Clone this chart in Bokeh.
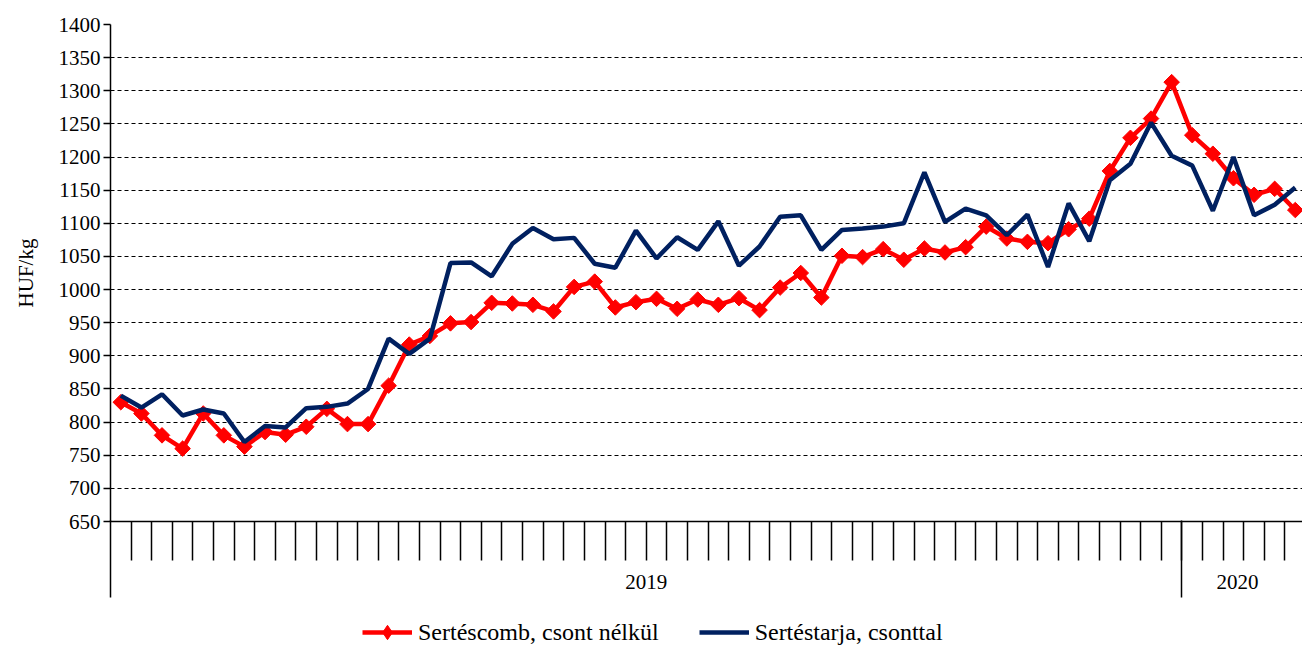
import math
from bokeh.plotting import figure
from bokeh.layouts import column
from bokeh.models import Range1d, FixedTicker, LinearAxis, Legend, LegendItem
from bokeh.embed import file_html
from bokeh.resources import INLINE

# ---- data ----
years = ["2019", "2020"]
weeks_2019 = [str(i) for i in range(1, 53)]
weeks_2020 = [str(i) for i in range(1, 7)]
series_names = ["Sertéscomb, csont nélkül", "Sertéstarja, csonttal"]

sertescomb = [830, 813, 780, 760, 813, 780, 763, 785, 781, 793,
              820, 797, 797, 855, 917, 930, 949, 951, 980, 979,
              977, 967, 1004, 1012, 973, 981, 986, 971, 985, 977,
              987, 969, 1003, 1025, 988, 1051, 1049, 1061, 1045, 1062,
              1056, 1064, 1095, 1077, 1072, 1070, 1091, 1107, 1179, 1229,
              1258, 1313, 1233, 1205, 1168, 1143, 1152, 1120]

sertestarja = [840, 822, 842, 810, 819, 813, 770, 794, 792, 821,
               823, 828, 850, 926, 903, 926, 1040, 1041, 1020, 1069,
               1093, 1076, 1078, 1039, 1033, 1089, 1047, 1079, 1060, 1103,
               1036, 1065, 1110, 1112, 1060, 1090, 1092, 1095, 1100, 1177,
               1102, 1122, 1112, 1082, 1113, 1034, 1130, 1073, 1165, 1190,
               1252, 1202, 1187, 1119, 1200, 1112, 1128, 1154]

y_ticks = list(range(650, 1401, 50))

# ---- derived positions (category index based) ----
labels = weeks_2019 + weeks_2020
n = len(labels)
xs = [i + 0.5 for i in range(n)]
n19 = len(weeks_2019)
year_centers = [n19 / 2, n19 + len(weeks_2020) / 2 - 0.3]
year_bounds = [0, n19]

FONT = "Liberation Serif"
FS = "21px"
RED = "#FF0000"
NAVY = "#002060"

p = figure(frame_width=1192, frame_height=497, output_backend="svg", toolbar_location=None,
           x_range=Range1d(0, 57.85), y_range=Range1d(650, 1400),
           x_axis_location=None, y_axis_location="left",
           min_border_top=24, min_border_left=110, min_border_right=0, min_border_bottom=88,
           background_fill_color="white", border_fill_color="white")
p.outline_line_color = None

# y axis
p.yaxis.ticker = FixedTicker(ticks=y_ticks)
p.yaxis.axis_line_color = "black"
p.yaxis.axis_line_width = 1.5
p.yaxis.major_tick_out = 7
p.yaxis.major_tick_in = 0
p.yaxis.major_tick_line_width = 1.5
p.yaxis.minor_tick_line_color = None
p.yaxis.major_label_text_font = FONT
p.yaxis.major_label_text_font_size = FS
p.yaxis.major_label_text_color = "black"
p.yaxis.major_label_standoff = 3
p.yaxis.axis_label = "HUF/kg"
p.yaxis.axis_label_text_font = FONT
p.yaxis.axis_label_text_font_size = FS
p.yaxis.axis_label_text_font_style = "normal"
p.yaxis.axis_label_text_color = "black"
p.yaxis.axis_label_standoff = 18

p.ygrid.ticker = FixedTicker(ticks=y_ticks[1:])
p.ygrid.grid_line_color = "black"
p.ygrid.grid_line_dash = "4 3"
p.ygrid.grid_line_width = 1
p.xgrid.visible = False

# x axis: category ticks + year labels
ax1 = LinearAxis(ticker=FixedTicker(ticks=year_centers, minor_ticks=list(range(1, n))),
                 major_label_overrides={year_centers[0]: years[0], year_centers[1]: years[1]},
                 major_tick_out=0, major_tick_in=0,
                 minor_tick_out=39, minor_tick_in=0,
                 minor_tick_line_color="black", minor_tick_line_width=1.5,
                 axis_line_color="black", axis_line_width=1.5,
                 major_label_standoff=14,
                 major_label_text_font=FONT, major_label_text_font_size=FS,
                 major_label_text_color="black")
p.add_layout(ax1, "below")

# x axis: year separators
ax2 = LinearAxis(ticker=FixedTicker(ticks=year_bounds),
                 major_label_overrides={year_bounds[0]: "", year_bounds[1]: ""},
                 axis_line_color=None,
                 major_tick_in=71, major_tick_out=6,
                 major_tick_line_color="black", major_tick_line_width=1.5,
                 major_label_standoff=0, major_label_text_font_size="1px")
p.add_layout(ax2, "below")

# series
p.line(xs, sertescomb, line_color=RED, line_width=4.5)
p.scatter(xs, sertescomb, marker="square", angle=math.pi / 4, size=11,
          fill_color=RED, line_color=RED)
p.line(xs, sertestarja, line_color=NAVY, line_width=4.5)

# legend strip (separate figure below, same series styling)
lg = figure(width=1302, height=36, output_backend="svg", toolbar_location=None,
            x_range=Range1d(0, 1), y_range=Range1d(0, 1),
            x_axis_location=None, y_axis_location=None,
            min_border=0, background_fill_color="white", border_fill_color="white")
lg.outline_line_color = None
lg.xgrid.visible = False
lg.ygrid.visible = False
l1 = lg.line(xs, sertescomb, line_color=RED, line_width=4.5)
m1 = lg.scatter(xs, sertescomb, marker="diamond", size=19, fill_color=RED, line_color=RED)
l2 = lg.line(xs, sertestarja, line_color=NAVY, line_width=4.5)

legend = Legend(items=[LegendItem(label=series_names[0], renderers=[l1, m1]),
                       LegendItem(label=series_names[1], renderers=[l2])],
                orientation="horizontal", location=(252, -5),
                glyph_width=50, glyph_height=36, label_standoff=6, spacing=40,
                padding=0, margin=0,
                label_text_font=FONT, label_text_font_size="24px", label_text_color="black",
                border_line_color=None, background_fill_alpha=0)
lg.add_layout(legend, "center")

layout = column(p, lg, spacing=0)
open("out.html", "w").write(file_html(layout, INLINE))
